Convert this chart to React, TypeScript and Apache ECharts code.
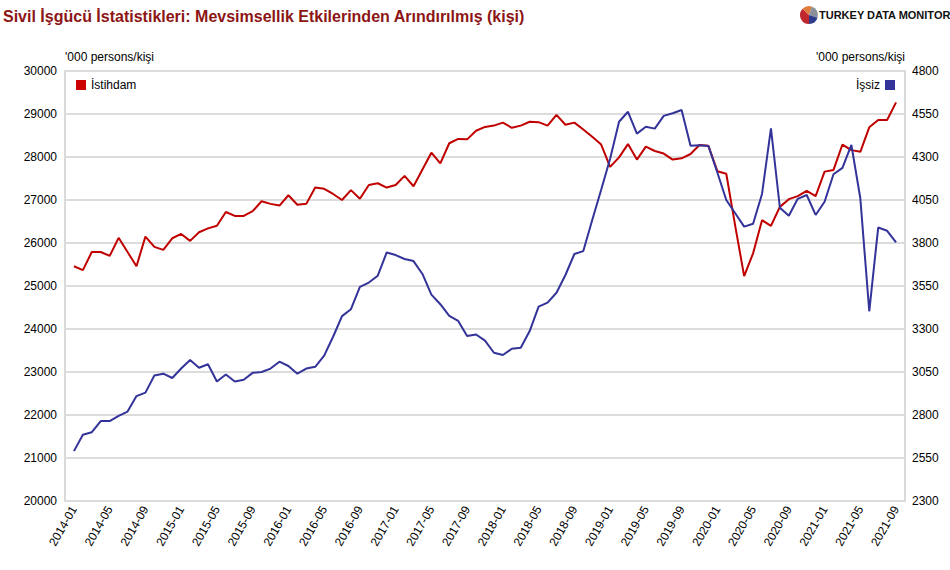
import React, { useEffect, useRef } from "react";
import * as echarts from "echarts";

const TITLE = "Sivil İşgücü İstatistikleri: Mevsimsellik Etkilerinden Arındırılmış (kişi)";
const UNIT = "'000 persons/kişi";
const SERIES_NAMES = ["İstihdam", "İşsiz"];

const categories: string[] = [];
for (let y = 2014; y <= 2021; y++) {
  for (let m = 1; m <= 12; m++) {
    if (y === 2021 && m > 9) break;
    categories.push(`${y}-${String(m).padStart(2, "0")}`);
  }
}

const employment = [
  25460, 25370, 25790, 25790, 25700, 26120, 25790, 25460, 26150, 25910, 25840, 26110,
  26210, 26050, 26250, 26340, 26400, 26720, 26630, 26630, 26740, 26970, 26910, 26870,
  27110, 26890, 26910, 27290, 27260, 27140, 27000, 27230, 27030, 27350, 27390, 27290,
  27350, 27560, 27320, 27710, 28100, 27850, 28320, 28420, 28410, 28610, 28700, 28730,
  28800, 28680, 28730, 28820, 28810, 28730, 28980, 28750, 28800, 28640, 28470, 28290,
  27770, 27990, 28300, 27940, 28240, 28140, 28080, 27940, 27970, 28070, 28280, 28260,
  27670, 27610, 26400, 25230, 25760, 26530, 26400, 26840, 27020, 27090, 27210, 27090,
  27660, 27700, 28290, 28160, 28120, 28690, 28860, 28860, 29270,
];

const unemployment = [
  2590, 2685, 2700, 2765, 2765, 2795, 2820, 2910, 2930, 3030, 3040, 3015,
  3070, 3120, 3075, 3095, 2995, 3035, 2995, 3005, 3045, 3050, 3070, 3110,
  3085, 3040, 3070, 3080, 3145, 3255, 3375, 3415, 3545, 3570, 3610, 3745,
  3730, 3707, 3695, 3620, 3500, 3444, 3376, 3347, 3259, 3268, 3232, 3162,
  3149, 3185, 3191, 3288, 3430, 3453, 3511, 3614, 3736, 3753, 3934, 4110,
  4290, 4505, 4563, 4436, 4476, 4465, 4539, 4554, 4573, 4365, 4368, 4364,
  4210, 4050, 3973, 3895, 3912, 4085, 4467, 4005, 3958, 4057, 4079, 3963,
  4040, 4200, 4237, 4370, 4060, 3403, 3890, 3871, 3804,
];

const leftAxis = { min: 20000, max: 30000, interval: 1000 };
const rightAxis = { min: 2300, max: 4800, interval: 250 };

const FONT = "'Liberation Sans', Arial, sans-serif";
const RED = "#c00000";
const BLUE = "#333399";

export default function App() {
  const ref = useRef<HTMLDivElement>(null);
  useEffect(() => {
    if (!ref.current) return;
    const chart = echarts.init(ref.current, null, { renderer: "svg" });
    const axisCats = ["", ...categories, ""];
    const pad = (a: number[]) => [null, ...a, null];
    const plain = (v: number) => String(v);
    const cx = 9, cy = 9, r = 9;
    chart.setOption({
      animation: false,
      backgroundColor: "#fff",
      textStyle: { fontFamily: FONT },
      title: {
        text: TITLE,
        left: 3,
        top: 8,
        padding: 0,
        textStyle: { color: "#8c1515", fontSize: 16, fontWeight: "bold", fontFamily: FONT },
      },
      grid: {
        left: 65,
        right: 45,
        top: 71,
        bottom: 69,
        show: true,
        borderColor: "#d9d9d9",
        borderWidth: 2,
      },
      legend: [
        {
          data: [SERIES_NAMES[0]],
          left: 76,
          top: 79,
          padding: 0,
          icon: "rect",
          itemWidth: 10,
          itemHeight: 10,
          textStyle: { fontSize: 12, color: "#000", fontFamily: FONT },
        },
        {
          data: [SERIES_NAMES[1]],
          right: 55,
          top: 79,
          padding: 0,
          align: "right",
          icon: "rect",
          itemWidth: 10,
          itemHeight: 10,
          textStyle: { fontSize: 12, color: "#000", fontFamily: FONT },
        },
      ],
      xAxis: {
        type: "category",
        data: axisCats,
        boundaryGap: false,
        axisLine: { show: false },
        axisTick: { show: false },
        splitLine: { show: false },
        axisLabel: {
          interval: (idx: number) => idx >= 1 && idx <= categories.length && (idx - 1) % 4 === 0,
          rotate: 60,
          fontSize: 12,
          color: "#000",
          margin: 6,
          fontFamily: FONT,
        },
      },
      yAxis: [
        {
          type: "value",
          position: "left",
          min: leftAxis.min,
          max: leftAxis.max,
          interval: leftAxis.interval,
          name: UNIT,
          nameLocation: "end",
          nameGap: 8,
          nameTextStyle: { align: "left", color: "#000", fontSize: 12, fontFamily: FONT },
          axisLine: { show: false },
          axisTick: { show: false },
          axisLabel: { fontSize: 12, color: "#000", margin: 8, fontFamily: FONT, formatter: plain },
          splitLine: { lineStyle: { color: "#dcdcdc", width: 2 } },
        },
        {
          type: "value",
          position: "right",
          min: rightAxis.min,
          max: rightAxis.max,
          interval: rightAxis.interval,
          name: UNIT,
          nameLocation: "end",
          nameGap: 8,
          nameTextStyle: { align: "right", color: "#000", fontSize: 12, fontFamily: FONT },
          axisLine: { show: false },
          axisTick: { show: false },
          axisLabel: { fontSize: 12, color: "#000", margin: 7, fontFamily: FONT, formatter: plain },
          splitLine: { show: false },
        },
      ],
      series: [
        {
          name: SERIES_NAMES[0],
          type: "line",
          yAxisIndex: 0,
          data: pad(employment),
          symbol: "none",
          lineStyle: { color: RED, width: 2 },
          itemStyle: { color: "#cc0000" },
        },
        {
          name: SERIES_NAMES[1],
          type: "line",
          yAxisIndex: 1,
          data: pad(unemployment),
          symbol: "none",
          lineStyle: { color: BLUE, width: 2 },
          itemStyle: { color: BLUE },
        },
      ],
      graphic: [
        {
          type: "group",
          left: 800,
          top: 6,
          children: [
            { type: "sector", shape: { cx, cy, r, startAngle: Math.PI * 0.5, endAngle: Math.PI * 1.25 }, style: { fill: "#c0282d" } },
            { type: "sector", shape: { cx, cy, r, startAngle: Math.PI * 1.25, endAngle: Math.PI * 1.6 }, style: { fill: "#e07b39" } },
            { type: "sector", shape: { cx, cy, r, startAngle: Math.PI * 1.6, endAngle: Math.PI * 2.1 }, style: { fill: "#8a8f99" } },
            { type: "sector", shape: { cx, cy, r, startAngle: Math.PI * 0.1, endAngle: Math.PI * 0.5 }, style: { fill: "#2e3a8c" } },
            {
              type: "text",
              x: 19,
              y: 9,
              style: {
                text: "TURKEY DATA MONITOR",
                fill: "#111",
                font: `bold 11px ${FONT}`,
                verticalAlign: "middle",
              },
            },
          ],
        },
      ],
    });
    return () => chart.dispose();
  }, []);
  return <div ref={ref} style={{ width: 950, height: 570, position: "absolute", left: 0, top: 0 }} />;
}
